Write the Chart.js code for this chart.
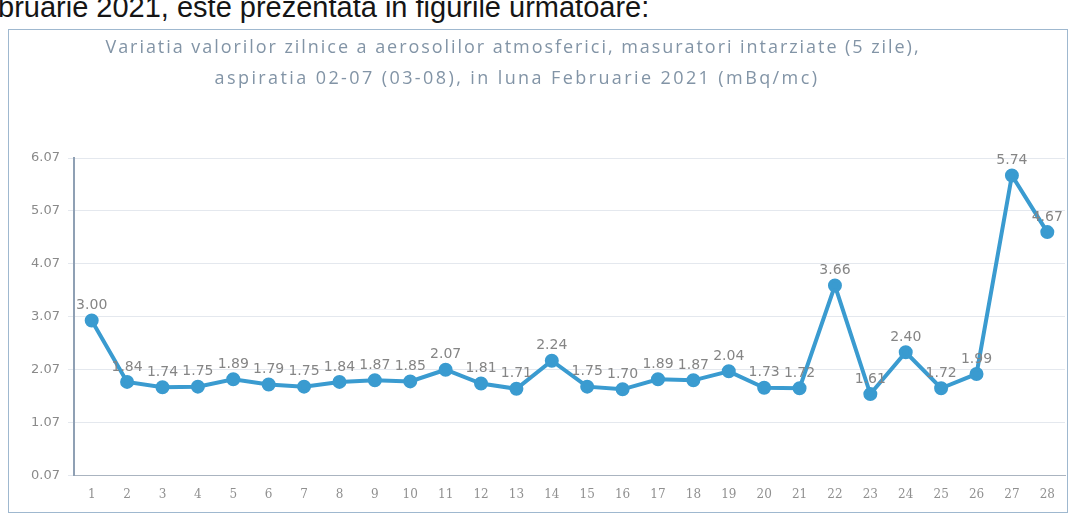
<!DOCTYPE html>
<html>
<head>
<meta charset="utf-8">
<script src="https://cdn.jsdelivr.net/npm/chart.js@4/dist/chart.umd.min.js"></script>
<style>
  body { margin: 0; background: #fff; width: 1076px; height: 514px; overflow: hidden; position: relative; }
  #pagetext { position: absolute; left: -2px; top: -9px; font-family: "Liberation Sans", Arial, sans-serif; font-size: 29px; color: #151515; white-space: nowrap; }
  #box { position: absolute; left: 8px; top: 29px; width: 1060px; height: 484px; border: 1px solid #9fb8cf; box-sizing: border-box; }
  #wrap { position: absolute; left: 0; top: 0; width: 1065px; height: 482px; }
  .title { position: absolute; left: -25px; width: 100%; text-align: center; font-family: "Open Sans", sans-serif; font-size: 18px; color: #8294a6; white-space: nowrap; }
</style>
</head>
<body>
<div id="pagetext">bruarie 2021, este prezentata in figurile urmatoare:</div>
<div id="box">
  <div id="wrap"><canvas id="myChart"></canvas></div>
  <div class="title" id="t1" style="top: 4px; letter-spacing: 1.95px;"></div>
  <div class="title" id="t2" style="top: 35px; letter-spacing: 2.4px; left: -21px;"></div>
</div>
<script>
const days = ["1","2","3","4","5","6","7","8","9","10","11","12","13","14","15","16","17","18","19","20","21","22","23","24","25","26","27","28"];
const values = [3.00,1.84,1.74,1.75,1.89,1.79,1.75,1.84,1.87,1.85,2.07,1.81,1.71,2.24,1.75,1.70,1.89,1.87,2.04,1.73,1.72,3.66,1.61,2.40,1.72,1.99,5.74,4.67];
const yTicks = [0.07,1.07,2.07,3.07,4.07,5.07,6.07];
const titleLines = [
    "Variatia valorilor zilnice a aerosolilor atmosferici, masuratori intarziate (5 zile),",
    "aspiratia 02-07 (03-08),  in luna Februarie 2021 (mBq/mc)"
];

document.getElementById("t1").textContent = titleLines[0];
document.getElementById("t2").textContent = titleLines[1];

// value above each point
const valueLabels = {
    id: "valueLabels",
    afterDatasetsDraw(chart) {
        let ctx = chart.ctx;
        let meta = chart.getDatasetMeta(0);
        ctx.save();
        ctx.font = "14px 'DejaVu Sans'";
        ctx.fillStyle = "#858585";
        ctx.textAlign = "center";
        ctx.textBaseline = "bottom";
        meta.data.forEach((pt, i) => {
            ctx.fillText(values[i].toFixed(2), pt.x, pt.y - 8);
        });
        ctx.restore();
    },
};

const ctx = document.getElementById("myChart");
new Chart(ctx, {
    type: "line",
    data: {
        labels: days,
        datasets: [{
            data: values,
            borderColor: "#3a9bd0",
            backgroundColor: "#3a9bd0",
            borderWidth: 4,
            pointRadius: 5,
            pointHoverRadius: 5,
            tension: 0,
        }],
    },
    options: {
        responsive: true,
        maintainAspectRatio: false,
        animation: false,
        layout: { padding: { top: 128, right: 0, left: 4, bottom: 6 } },
        plugins: {
            legend: { display: false },
            tooltip: { enabled: false },
        },
        scales: {
            x: {
                offset: true,
                grid: { display: false },
                border: { color: "#aab4c0" },
                ticks: { color: "#909090", font: { family: "'DejaVu Serif'", size: 12 }, padding: 4 },
            },
            y: {
                min: 0.07,
                max: 6.07,
                afterBuildTicks: (axis) => {
                    axis.ticks = yTicks.map((v) => ({ value: v }));
                },
                afterFit: (axis) => {
                    axis.width = 61;
                },
                grid: { color: "#e4e8ee", tickLength: 6 },
                border: { color: "#8fa0b4", width: 2 },
                ticks: {
                    color: "#8a8a8a",
                    font: { family: "'DejaVu Sans'", size: 13 },
                    padding: 8,
                    callback: (v) => Number(v).toFixed(2),
                },
            },
        },
    },
    plugins: [valueLabels],
});
</script>
</body>
</html>
